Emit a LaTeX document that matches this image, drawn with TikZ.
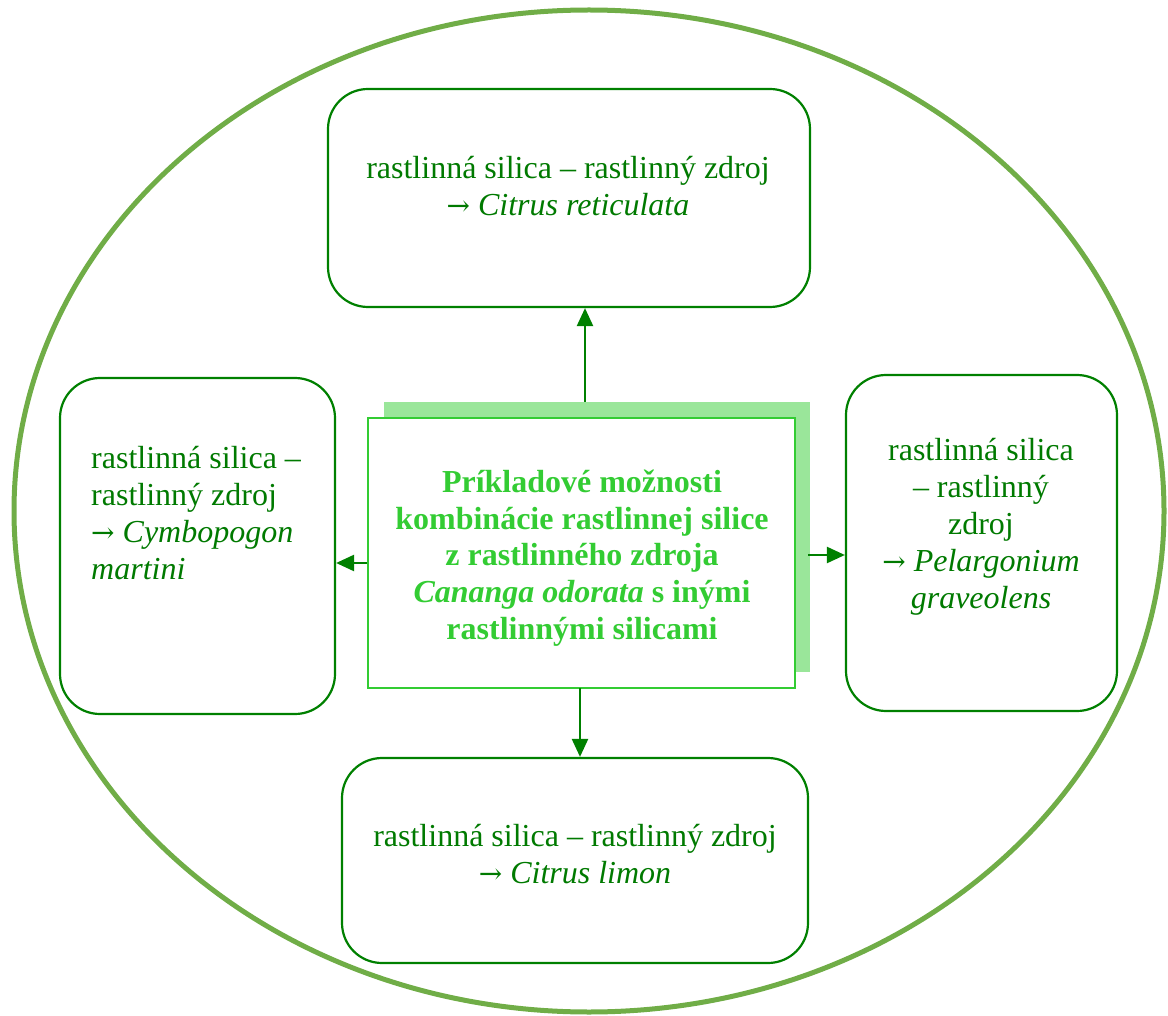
\documentclass[tikz,border=0pt]{standalone}
\usepackage{fontspec}
\setmainfont{Liberation Serif}
\newfontfamily\arrowfont{DejaVu Serif}
\newcommand{\rarr}{{\arrowfont\fontsize{28}{37}\selectfont →}}
\usetikzlibrary{arrows.meta}
\definecolor{ellgreen}{HTML}{70AD47}
\definecolor{boxgreen}{HTML}{008000}
\definecolor{txtgreen}{HTML}{007A00}
\definecolor{brightgreen}{HTML}{33CC33}
\definecolor{shadowgreen}{HTML}{9AE69A}
\tikzset{
  x=1pt, y=-1pt,
  plantbox/.style={draw=boxgreen, line width=2.2pt, rounded corners=40pt, fill=white, inner sep=0pt},
  plabel/.style={text=txtgreen, font=\fontsize{32}{37}\selectfont, inner sep=0pt},
  centerbox/.style={draw=brightgreen, line width=2pt, fill=white, inner sep=0pt},
  shadowbox/.style={fill=shadowgreen, draw=none, inner sep=0pt},
  ctext/.style={text=brightgreen, font=\fontsize{32}{36.7}\selectfont\bfseries, inner sep=0pt, align=center},
  conn/.style={draw=boxgreen, line width=2.4pt, -{Triangle[length=18pt,width=16pt]}}
}
\begin{document}
\begin{tikzpicture}
\useasboundingbox (0,0) rectangle (1168,1016);
% outer ellipse
\draw[ellgreen, line width=5pt] (589,511) ellipse [x radius=575, y radius=501];
% plant boxes
\node[plantbox, minimum width=482pt, minimum height=218pt] (top) at (569,198) {};
\node[plantbox, minimum width=275pt, minimum height=336pt] (left) at (197.5,546) {};
\node[plantbox, minimum width=271pt, minimum height=336pt] (right) at (981.5,543) {};
\node[plantbox, minimum width=466pt, minimum height=205pt] (bottom) at (575,860.5) {};
% centre box with shadow
\node[shadowbox, minimum width=426pt, minimum height=270pt] (shadow) at (597,537) {};
\node[centerbox, minimum width=427pt, minimum height=270pt] (center) at (581.5,553) {};
% texts
\node[plabel, align=center] (ttop) at (568,186) {rastlinná silica – rastlinný zdroj\\\rarr{} \textit{Citrus reticulata}};
\node[plabel, align=left, anchor=west] (tleft) at (91,513) {rastlinná silica –\\rastlinný zdroj\\\rarr{} \textit{Cymbopogon}\\\textit{martini}};
\node[plabel, align=center] (tright) at (981,527) {rastlinná silica\\– rastlinný\\zdroj\\\rarr{} \textit{Pelargonium}\\\textit{graveolens}};
\node[plabel, align=center] (tbottom) at (575,854) {rastlinná silica – rastlinný zdroj\\\rarr{} \textit{Citrus limon}};
\node[ctext] (tcenter) at (582,558) {Príkladové možnosti\\kombinácie rastlinnej silice\\z rastlinného zdroja\\\textit{Cananga odorata} s inými\\rastlinnými silicami};
% connectors
\coordinate (cup) at (585,402);
\coordinate (cdown) at (580,688);
\coordinate (cleft) at (367,563);
\coordinate (cright) at (808,555);
\draw[conn] (cup) -- (top.south -| cup);
\draw[conn] (cdown) -- (bottom.north -| cdown);
\draw[conn] (cleft) -- (left.east |- cleft);
\draw[conn] (cright) -- (right.west |- cright);
\end{tikzpicture}
\end{document}
